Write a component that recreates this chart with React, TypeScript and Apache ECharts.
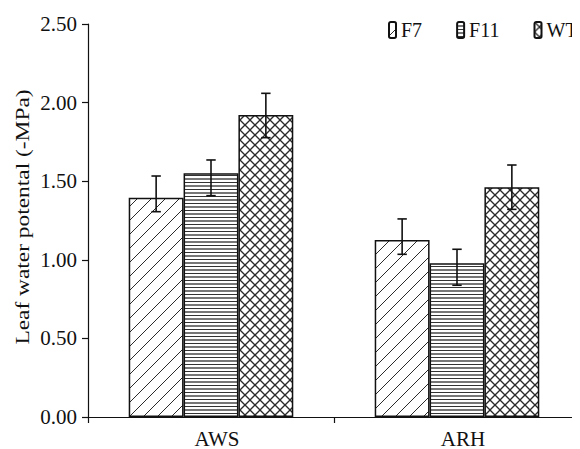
import React, { useEffect, useRef } from "react";
import * as echarts from "echarts";

const categories = ["AWS", "ARH"];
const seriesNames = ["F7", "F11", "WT"];
const f7Values = [1.395, 1.126];
const f11Values = [1.55, 0.978];
const wtValues = [1.921, 1.461];
const f7Low = [1.306, 1.035];
const f7High = [1.533, 1.26];
const f11Low = [1.408, 0.838];
const f11High = [1.635, 1.067];
const wtLow = [1.777, 1.321];
const wtHigh = [2.059, 1.603];
const yTicks = [0, 0.5, 1.0, 1.5, 2.0, 2.5];
const yTitle = "Leaf water potental (-MPa)";

const FONT = "'Liberation Serif', 'DejaVu Serif', serif";
const BAR_FRAC = 0.223;

function makePattern(kind: number) {
  const c = document.createElement("canvas");
  let size = 14;
  if (kind === 1) size = 7;
  if (kind === 2) size = 10;
  c.width = size;
  c.height = size;
  const g = c.getContext("2d")!;
  g.fillStyle = "#fff";
  g.fillRect(0, 0, size, size);
  g.strokeStyle = "#2a2a2a";
  if (kind === 0) {
    g.lineWidth = 1;
    for (const k of [-size, 0, size]) {
      g.beginPath();
      g.moveTo(k - 1, size + 1);
      g.lineTo(k + size + 1, -1);
      g.stroke();
    }
  } else if (kind === 1) {
    g.fillStyle = "#333";
    g.fillRect(0, 0, size, 1);
    g.fillStyle = "#777";
    g.fillRect(0, 3, size, 2);
  } else {
    g.lineWidth = 1.3;
    for (const k of [-size, 0, size]) {
      g.beginPath();
      g.moveTo(k - 1, size + 1);
      g.lineTo(k + size + 1, -1);
      g.stroke();
      g.beginPath();
      g.moveTo(k - 1, -1);
      g.lineTo(k + size + 1, size + 1);
      g.stroke();
    }
  }
  return { image: c, repeat: "repeat" };
}

export default function App() {
  const ref = useRef<HTMLDivElement>(null);
  useEffect(() => {
    if (!ref.current) return;
    const chart = echarts.init(ref.current, undefined, { renderer: "svg" });
    const values = [f7Values, f11Values, wtValues];
    const lows = [f7Low, f11Low, wtLow];
    const highs = [f7High, f11High, wtHigh];
    const errData: number[][] = [];
    values.forEach((vals, s) => {
      vals.forEach((v, c) => errData.push([c, v, lows[s][c], highs[s][c], s]));
    });
    const barSeries = seriesNames.map((name, s) => ({
      name,
      type: "bar",
      data: values[s],
      barWidth: BAR_FRAC * 100 + "%",
      barGap: "0%",
      itemStyle: {
        color: makePattern(s),
        borderColor: "#111",
        borderWidth: 1.5,
      },
    }));
    chart.setOption({
      animation: false,
      grid: { left: 88, right: -2, top: 24, bottom: 32 },
      legend: {
        data: seriesNames,
        left: 383,
        top: 15,
        width: 400,
        itemWidth: 7,
        itemHeight: 16,
        itemGap: 34,
        textStyle: { fontFamily: FONT, fontSize: 20, color: "#111" },
      },
      graphic: [
        {
          type: "text",
          x: 23,
          y: 217,
          rotation: Math.PI / 2,
          scaleX: 1.3,
          style: {
            text: yTitle,
            font: "18px 'Liberation Serif', serif",
            fill: "#111",
            align: "center",
            verticalAlign: "middle",
          },
        },
      ],
      xAxis: {
        type: "category",
        data: categories,
        axisLine: { lineStyle: { color: "#111", width: 1.2 } },
        axisTick: { show: true, length: 6, lineStyle: { color: "#111", width: 1.2 } },
        axisLabel: { fontFamily: FONT, fontSize: 21, color: "#111", margin: 11, padding: [0, 0, 0, 12] },
      },
      yAxis: {
        type: "value",
        min: 0,
        max: 2.5,
        interval: 0.5,
        axisLine: { show: true, lineStyle: { color: "#111", width: 1.2 } },
        axisTick: { show: true, length: 6, lineStyle: { color: "#111", width: 1.2 } },
        splitLine: { show: false },
        axisLabel: {
          fontFamily: FONT,
          fontSize: 21,
          color: "#111",
          margin: 11,
          formatter: (v: number) => (yTicks.includes(v) ? v.toFixed(2) : ""),
        },
      },
      series: [
        ...barSeries,
        {
          type: "custom",
          name: "err",
          z: 10,
          data: errData,
          encode: { x: 0, y: 1 },
          renderItem: (params: any, api: any) => {
            const cat = api.value(0);
            const mean = api.value(1);
            const lo = api.value(2);
            const hi = api.value(3);
            const s = api.value(4);
            const band = api.size([1, 0])[0];
            const barW = band * BAR_FRAC;
            const cx = api.coord([cat, mean])[0] + (s - 1) * barW;
            const top = api.coord([cat, hi])[1];
            const bot = api.coord([cat, lo])[1];
            const half = 4.7;
            const st = { stroke: "#111", lineWidth: 1.6 };
            return {
              type: "group",
              children: [
                { type: "line", shape: { x1: cx, y1: top, x2: cx, y2: bot }, style: st },
                { type: "line", shape: { x1: cx - half, y1: top, x2: cx + half, y2: top }, style: st },
                { type: "line", shape: { x1: cx - half, y1: bot, x2: cx + half, y2: bot }, style: st },
              ],
            };
          },
        },
      ],
    });
    return () => chart.dispose();
  }, []);
  return <div ref={ref} style={{ width: 580, height: 449, marginLeft: -8, marginTop: -8 }} />;
}
